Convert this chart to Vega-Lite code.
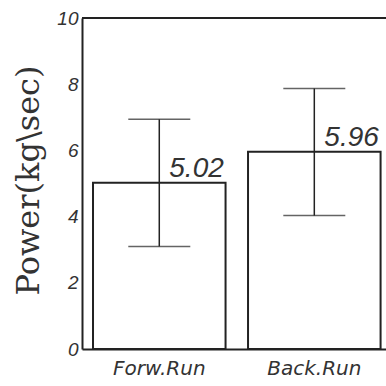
{
  "$schema": "https://vega.github.io/schema/vega-lite/v6.json",
  "width": 304,
  "height": 331,
  "autosize": {"type": "none"},
  "padding": {"left": 82, "top": 18, "right": 0, "bottom": 37},
  "background": "white",
  "view": {"stroke": null},
  "data": {
    "values": [
      {"run": "Forw.Run", "power": 5.02, "lo": 3.1, "hi": 6.94, "label": "5.02"},
      {"run": "Back.Run", "power": 5.96, "lo": 4.03, "hi": 7.87, "label": "5.96"}
    ]
  },
  "encoding": {
    "x": {
      "field": "run",
      "type": "nominal",
      "sort": null,
      "scale": {"paddingInner": 0.145, "paddingOuter": 0.053, "align": 0.67},
      "axis": {
        "title": null,
        "labelAngle": 0,
        "ticks": false,
        "labelFont": "DejaVu Sans",
        "labelFontStyle": "italic",
        "labelFontSize": 20,
        "labelColor": "#333",
        "labelBaseline": "top",
        "labelPadding": 9,
        "domainColor": "#222",
        "domainWidth": 2
      }
    }
  },
  "layer": [
    {
      "mark": {"type": "rule", "color": "#222", "strokeWidth": 2},
      "encoding": {"x": null, "y": {"datum": 10, "type": "quantitative"}}
    },
    {
      "mark": {"type": "bar", "fill": "white", "stroke": "#222", "strokeWidth": 2},
      "encoding": {
        "y": {
          "field": "power",
          "type": "quantitative",
          "scale": {"domain": [0, 10], "nice": false},
          "axis": {
            "title": "Power(kg\\sec)",
            "titleFont": "DejaVu Serif",
            "titleFontSize": 32,
            "titleFontWeight": "normal",
            "titleColor": "#333",
            "titleAngle": -90,
            "titleAlign": "center",
            "titleBaseline": "alphabetic",
            "titleX": -44,
            "titleY": 162,
            "values": [0, 2, 4, 6, 8, 10],
            "grid": false,
            "ticks": false,
            "labelFont": "Liberation Sans",
            "labelFontStyle": "italic",
            "labelFontSize": 19,
            "labelColor": "#333",
            "labelPadding": 4,
            "domainColor": "#222",
            "domainWidth": 2
          }
        }
      }
    },
    {
      "mark": {"type": "rule", "color": "#222", "strokeWidth": 1.5},
      "encoding": {
        "y": {"field": "lo", "type": "quantitative"},
        "y2": {"field": "hi"}
      }
    },
    {
      "mark": {"type": "tick", "color": "#222", "size": 62, "thickness": 1.5},
      "encoding": {"y": {"field": "hi", "type": "quantitative"}}
    },
    {
      "mark": {"type": "tick", "color": "#222", "size": 62, "thickness": 1.5},
      "encoding": {"y": {"field": "lo", "type": "quantitative"}}
    },
    {
      "mark": {
        "type": "text",
        "align": "left",
        "baseline": "alphabetic",
        "dx": 10,
        "dy": -6,
        "font": "Liberation Sans",
        "fontStyle": "italic",
        "fontSize": 28,
        "color": "#333"
      },
      "encoding": {
        "y": {"field": "power", "type": "quantitative"},
        "text": {"field": "label"}
      }
    }
  ]
}
